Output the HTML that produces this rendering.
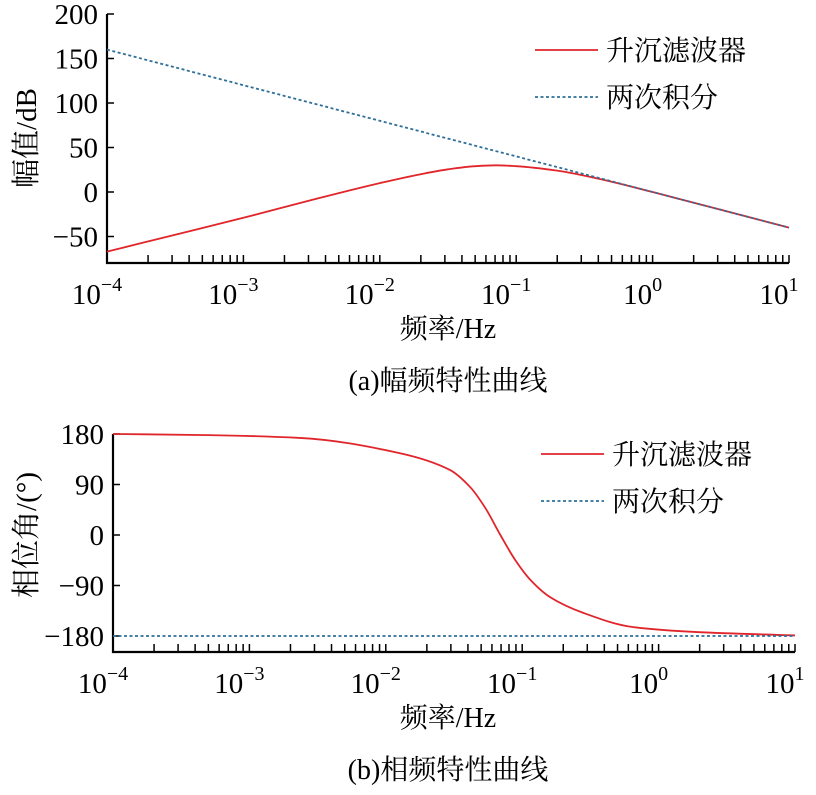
<!DOCTYPE html>
<html><head><meta charset="utf-8"><style>
body{margin:0;background:#fff}
text{font-family:"Liberation Serif","Times New Roman","Noto Serif CJK SC",serif;fill:#000}
</style></head><body>
<svg id="s" width="816" height="790" viewBox="0 0 816 790" xmlns="http://www.w3.org/2000/svg"></svg>
<script>
const logFreq=[-4,-3.5,-3,-2.5,-2,-1.7,-1.5,-1.3,-1.15,-1,-0.7,-0.4,0,0.5,1];
const magHeave=[-67,-48,-29,-9,10,20,25.5,29,30,29,24,15,0,-20,-40];
const magDouble=[160,140,120,100,80,68,60,52,46,40,28,16,0,-20,-40];
const phaseFreq=[-4,-3.3,-2.63,-1.9,-1.53,-1.38,-1.27,-1.16,-1.05,-0.94,-0.8,-0.55,-0.19,0.28,1];
const phaseHeave=[180,178,173,146,116,85,48,0,-45,-80,-110,-139,-164,-173,-179];
const phaseDouble=[-180,-180,-180,-180,-180,-180,-180,-180,-180,-180,-180,-180,-180,-180,-180];
const magTicks=[200,150,100,50,0,-50];
const phaseTicks=[180,90,0,-90,-180];
const decades=[-4,-3,-2,-1,0,1];
const NS='http://www.w3.org/2000/svg',S=document.getElementById('s');
const FF='"Liberation Serif","Times New Roman","Noto Serif CJK SC",serif';
function el(t,a,p){const e=document.createElementNS(NS,t);for(const k in a)e.setAttribute(k,a[k]);if(t==='text')e.setAttribute('font-family',FF);(p||S).appendChild(e);return e;}
function path(xs,ys,fx,fy){
 const X=xs.map(fx),Y=ys.map(fy),n=X.length,d=[],m=[];
 for(let i=0;i<n-1;i++)d.push((Y[i+1]-Y[i])/(X[i+1]-X[i]));
 m[0]=d[0];m[n-1]=d[n-2];
 for(let i=1;i<n-1;i++){if(d[i-1]*d[i]<=0)m[i]=0;else{const w1=2*(X[i+1]-X[i])+(X[i]-X[i-1]),w2=(X[i+1]-X[i])+2*(X[i]-X[i-1]);m[i]=(w1+w2)/(w1/d[i-1]+w2/d[i]);}}
 let s='M'+X[0]+','+Y[0];
 for(let i=0;i<n-1;i++){const h=X[i+1]-X[i];s+=' C'+(X[i]+h/3)+','+(Y[i]+m[i]*h/3)+' '+(X[i+1]-h/3)+','+(Y[i+1]-m[i+1]*h/3)+' '+X[i+1]+','+Y[i+1];}
 return s;}
function chart(o){
 const fx=v=>o.x0+(v+4)*(o.x1-o.x0)/5, fy=v=>o.yTop+(o.vTop-v)*(o.yRef-o.yTop)/(o.vTop-o.vRef);
 const g=el('g',{});
 const ax=el('path',{d:`M${o.x0},${o.axTop}V${o.yB}H${o.x1}`,stroke:'#000','stroke-width':2.2,fill:'none'},g);
 
 o.ticks.forEach(t=>{const y=fy(t);el('line',{x1:o.x0,x2:o.x0+7,y1:y,y2:y,stroke:'#000','stroke-width':1.5},g);
  const tx=el('text',{x:o.x0-9,y:y+10,'text-anchor':'end','font-size':29},g);tx.textContent=t<0?'\u2212'+(-t):t;
  });
 decades.forEach(d=>{const x=fx(d);el('line',{x1:x,x2:x,y1:o.yB,y2:o.yB-8,stroke:'#000','stroke-width':1.5},g);
  if(d<1)for(let m=2;m<10;m++){const xm=fx(d+Math.log10(m));el('line',{x1:xm,x2:xm,y1:o.yB,y2:o.yB-8,stroke:'#000','stroke-width':1.5},g);}
  const tx=el('text',{x:x-10,y:o.yB+41,'text-anchor':'middle','font-size':29},g);tx.textContent='10';
  
  const sp=el('tspan',{dy:-13,'font-size':20},tx);sp.textContent=d<0?'\u2212'+(-d):d;});
 const r=el('path',{d:path(o.fx1,o.red,fx,fy),stroke:'#e0262b','stroke-width':1.8,fill:'none'},g);
 
 const b=el('path',{d:path(o.fx2,o.blue,fx,fy),stroke:'#2f6f9a','stroke-width':1.8,fill:'none','stroke-dasharray':'3,2.5'},g);
 
 [[o.lgY,'#e0262b','',"升沉滤波器"],[o.lgY+47,'#2f6f9a','3,2.5',"两次积分"]].forEach(l=>{
  const le=el('g',{},g);
  el('line',{x1:o.lgX,x2:o.lgX+63,y1:l[0],y2:l[0],stroke:l[1],'stroke-width':1.8,'stroke-dasharray':l[2]||'none'},le);
  const t=el('text',{x:o.lgX+71,y:l[0]+10,'font-size':28},le);t.textContent=l[3];});
 const yt=el('text',{transform:`translate(${o.ytX},${o.ytY}) rotate(-90)`,'text-anchor':'middle','font-size':29},g);yt.textContent=o.ytitle;
 
 const xt=el('text',{x:448,y:o.yB+75,'text-anchor':'middle','font-size':28},g);xt.textContent='频率/Hz';
 
 const ct=el('text',{x:448,y:o.yB+127,'text-anchor':'middle','font-size':28},g);ct.textContent=o.cap;
 
}
chart({name:'magnitude-chart',x0:107,x1:789,yB:263,axTop:14,yTop:14,vTop:200,yRef:192,vRef:0,ticks:magTicks,
 fx1:logFreq,red:magHeave,fx2:logFreq,blue:magDouble,lgX:535,lgY:50,ytX:36,ytY:138,ytitle:'幅值/dB',cap:'(a)幅频特性曲线'});
chart({name:'phase-chart',x0:113,x1:795,yB:652,axTop:434,yTop:434,vTop:180,yRef:636,vRef:-180,ticks:phaseTicks,
 fx1:phaseFreq,red:phaseHeave,fx2:phaseFreq,blue:phaseDouble,lgX:541,lgY:454,ytX:36,ytY:535,ytitle:'相位角/(°)',cap:'(b)相频特性曲线'});
</script>
</body></html>
